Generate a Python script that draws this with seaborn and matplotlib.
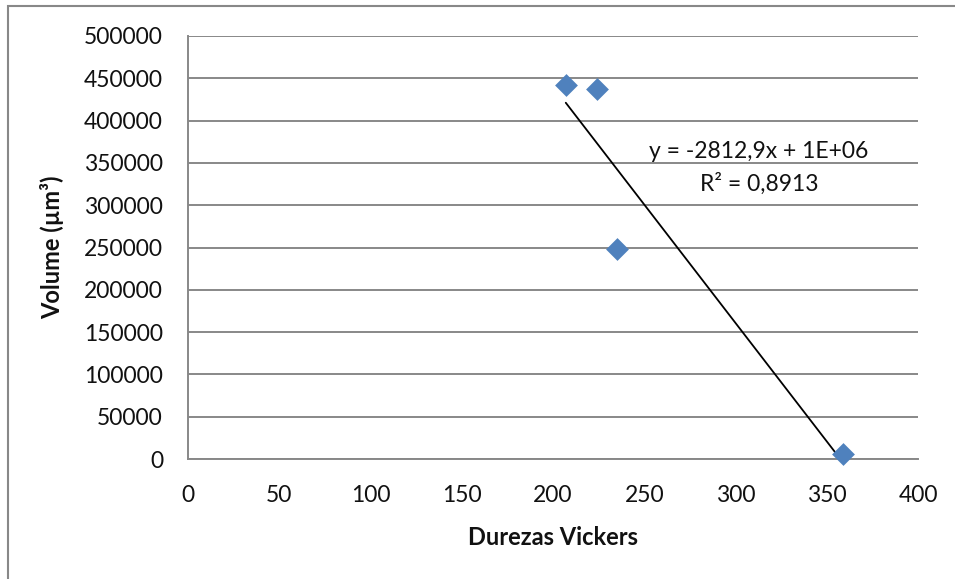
import numpy as np
import pandas as pd
import matplotlib
matplotlib.use("Agg")
import matplotlib.pyplot as plt
import seaborn as sns

dureza = [207, 224, 235, 359]
volume = [442000, 437000, 248000, 6000]
x_ticks = [0, 50, 100, 150, 200, 250, 300, 350, 400]
y_ticks = [0, 50000, 100000, 150000, 200000, 250000, 300000, 350000, 400000, 450000, 500000]
eq_text = "y = -2812,9x + 1E+06"
r2_text = "R² = 0,8913"

sns.set_style("white")
plt.rcParams['font.family'] = ['Lato', 'DejaVu Sans']

fig = plt.figure(figsize=(9.55, 5.79), dpi=100)
ax = fig.add_axes([188/955, 1-459/579, (918-188)/955, (459-36)/579])

# outer chart border (right and bottom edges fall outside the image)
fig.patches.append(plt.Rectangle((8/955, -10/579), 980/955, (573+10)/579, transform=fig.transFigure,
                                 fill=False, edgecolor="#888888", linewidth=1.5))

df = pd.DataFrame({"x": dureza, "y": volume})
coef = np.polyfit(df["x"], df["y"], 1)
fit = pd.DataFrame({"x": [min(dureza), max(dureza)]})
fit["y"] = np.polyval(coef, fit["x"])
sns.lineplot(data=fit, x="x", y="y", ax=ax, color="black", linewidth=1.3, zorder=2)
sns.scatterplot(data=df, x="x", y="y", ax=ax, marker="D", s=135, color="#4F81BD",
                edgecolor="#4F81BD", linewidth=0, zorder=3, clip_on=False)

ax.set_xlim(0, 400)
ax.set_ylim(0, 500000)
ax.set_xticks(x_ticks)
ax.set_yticks(y_ticks)
ax.set_xticklabels([str(t) for t in x_ticks], fontsize=16.5, color="#111111")
ax.set_yticklabels([str(t) for t in y_ticks], fontsize=16.5, color="#111111")
ax.tick_params(axis="y", length=0, pad=18)
ax.tick_params(axis="x", length=0, pad=19)
ax.grid(axis="y", color="#888888", linewidth=1.4)
ax.set_axisbelow(True)
for side in ["top", "right"]:
    ax.spines[side].set_visible(False)
for side in ["left", "bottom"]:
    ax.spines[side].set_color("#888888")
    ax.spines[side].set_linewidth(1.4)

ax.set_xlabel("Durezas Vickers", fontsize=17, fontweight="bold", labelpad=14, color="#111111")
ax.set_ylabel("Volume (µm³)", fontsize=17, fontweight="bold", labelpad=14, color="#111111")

ax.text(312.9, 364000, eq_text, fontsize=16.5, ha="center", va="center", color="#111111")
ax.text(312.9, 325000, r2_text, fontsize=16.5, ha="center", va="center", color="#111111")

fig.savefig("out.png", dpi=100)
